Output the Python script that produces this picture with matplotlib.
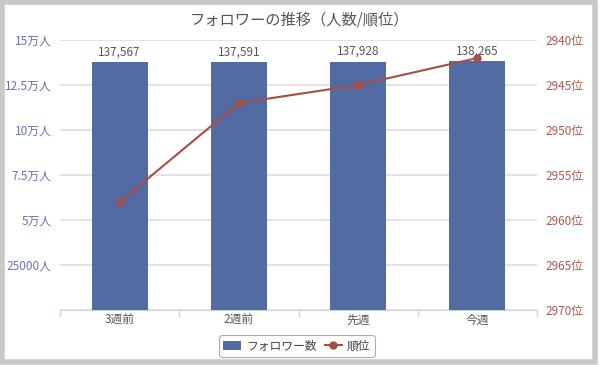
import matplotlib
matplotlib.use("Agg")
import matplotlib.pyplot as plt
from matplotlib.patches import Rectangle
from matplotlib.ticker import FixedLocator

plt.rcParams['font.family'] = ['Noto Sans CJK JP', 'DejaVu Sans']

# --- データ ----------------------------------------------------------
weeks = ["3週前", "2週前", "先週", "今週"]
followers = [137567, 137591, 137928, 138265]
ranks = [2958, 2947, 2945, 2942]
left_ticks = [0, 25000, 50000, 75000, 100000, 125000, 150000]
left_labels = ["", "25000人", "5万人", "7.5万人", "10万人", "12.5万人", "15万人"]
right_ticks = [2940, 2945, 2950, 2955, 2960, 2965, 2970]

bar_c = "#536ba3"
line_c = "#a84d45"

fig = plt.figure(figsize=(6, 3.65), dpi=100)
ax = fig.add_axes([60/600, 1 - 310/365, 477/600, 270/365])
ax2 = ax.twinx()

x = list(range(len(weeks)))
bars = ax.bar(x, followers, width=0.47, color=bar_c, zorder=3, label="フォロワー数")
for xi, v in zip(x, followers):
    ax.text(xi, v + 2000, f"{v:,}", ha="center", va="bottom", fontsize=8.5, color="#555555", zorder=5)

ax.set_xlim(-0.5, len(weeks) - 0.5)
ax.set_ylim(0, 150000)
ax.set_yticks(left_ticks)
ax.set_yticklabels(left_labels, color="#6673a6", fontsize=8.5)
ax.set_xticks(x)
ax.set_xticklabels(weeks, fontsize=8.5, color="#555555")
ax.tick_params(axis="x", length=0, pad=3)
ax.xaxis.set_minor_locator(FixedLocator([-0.5, 0.5, 1.5, 2.5, 3.5]))
ax.tick_params(axis="x", which="minor", length=5, color="#ccd6eb", width=1)
ax.tick_params(axis="y", length=0, pad=6)
ax.grid(axis="y", color="#e0e0e0", lw=1.3, zorder=0)
ax.set_axisbelow(True)
for s in ["top", "left", "right"]:
    ax.spines[s].set_visible(False)
ax.spines["bottom"].set_color("#ccd6eb")

line, = ax2.plot(x, ranks, color=line_c, lw=1.5, marker="o", markersize=5, zorder=4, label="順位")
ax2.set_ylim(2970, 2940)
ax2.set_yticks(right_ticks)
ax2.set_yticklabels([f"{v}位" for v in right_ticks], color="#a85a50", fontsize=8.5)
ax2.tick_params(axis="y", length=0, pad=6)
for s in ax2.spines.values():
    s.set_visible(False)

fig.text(0.5, 1 - 20/365, "フォロワーの推移（人数/順位）", ha="center", va="center",
         fontsize=11, color="#555555")

leg = fig.legend(handles=[bars, line], loc="center", bbox_to_anchor=(0.495, 1 - 346/365),
                 ncol=2, fontsize=8.5, frameon=True, fancybox=True, handlelength=1.5,
                 handletextpad=0.4, columnspacing=0.7, borderpad=0.35)
leg.get_frame().set_edgecolor("#999999")
leg.get_frame().set_linewidth(0.8)
for t in leg.get_texts():
    t.set_color("#444444")

# 外枠
fig.patches.append(Rectangle((0.004, 0.008), 0.988, 0.986, transform=fig.transFigure,
                             fill=False, edgecolor="#c8c8c8", lw=4))

fig.savefig("out.png", dpi=100)
